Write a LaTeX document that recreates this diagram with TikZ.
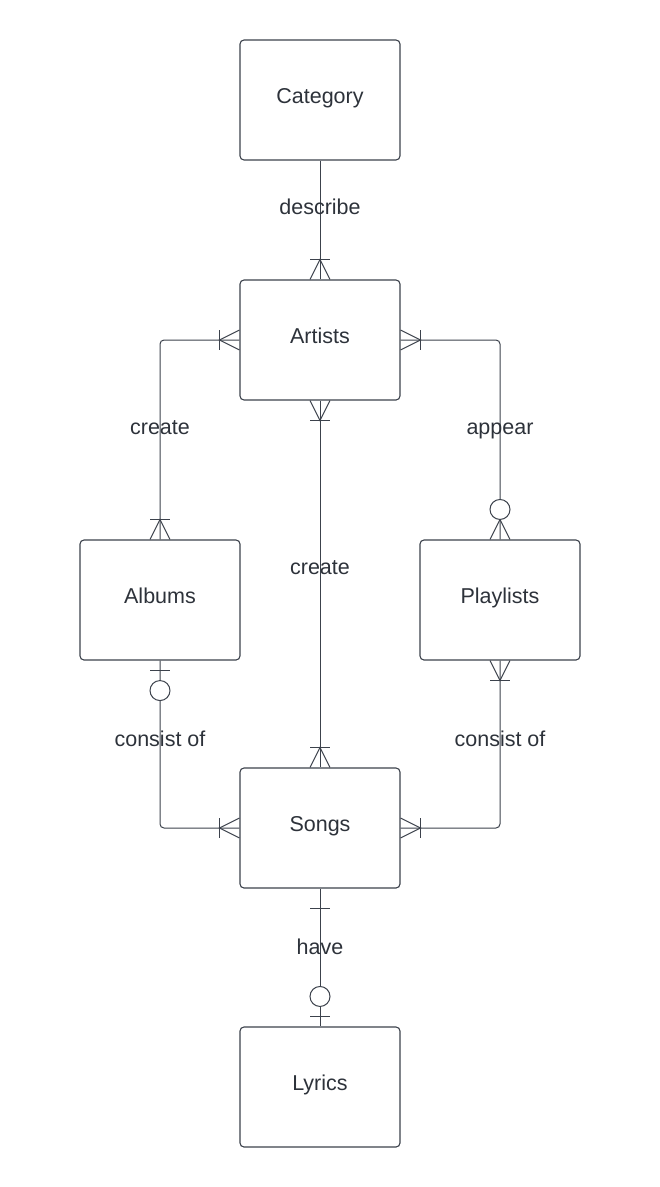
\documentclass[tikz,border=0pt]{standalone}
\usepackage{fontspec}
\setmainfont{Liberation Sans}
\definecolor{lncol}{RGB}{60,66,76}
\definecolor{txcol}{RGB}{45,50,58}
\tikzset{
  entity/.style={draw=lncol,line width=1.1pt,rounded corners=4pt,minimum width=160pt,minimum height=120pt,
    text=txcol,font=\fontsize{21.5}{26}\selectfont,text height=15.5pt,text depth=8.1pt},
  rel/.style={text=txcol,font=\fontsize{21.5}{26}\selectfont,inner sep=0pt,text height=15.5pt,text depth=0pt},
  link/.style={draw=lncol,line width=1pt},
  ring/.style={draw=lncol,fill=white,line width=1pt}
}
\begin{document}
\begin{tikzpicture}[x=1pt,y=-1pt]
  \useasboundingbox (0,0) rectangle (660,1187);
  % entities
  \node[entity] (cat) at (320,100) {Category};
  \node[entity] (art) at (320,340) {Artists};
  \node[entity] (alb) at (160,600) {Albums};
  \node[entity] (pla) at (500,600) {Playlists};
  \node[entity] (son) at (320,828) {Songs};
  \node[entity] (lyr) at (320,1087) {Lyrics};
  % relationship lines
  \draw[link] (cat.south) -- (art.north);
  \draw[link,rounded corners=4pt] (alb.north) |- (art.west);
  \draw[link,rounded corners=4pt] (pla.north) |- (art.east);
  \draw[link] (art.south) -- (son.north);
  \draw[link,rounded corners=4pt] (alb.south) |- (son.west);
  \draw[link,rounded corners=4pt] (pla.south) |- (son.east);
  \draw[link] (son.south) -- (lyr.north);
  % labels
  \node[rel] (ldescribe) at (320,207) {describe};
  \node[rel] (lcreatea) at (160,427) {create};
  \node[rel] (lappear) at (500,427) {appear};
  \node[rel] (lcreates) at (320,567) {create};
  \node[rel] (lconsista) at (160,739) {consist of};
  \node[rel] (lconsistp) at (500,739) {consist of};
  \node[rel] (lhave) at (320,947) {have};
  % artists ends
  \draw[link] ([xshift=-10pt]art.north) -- ([yshift=20pt]art.north) -- ([xshift=10pt]art.north);
  \draw[link] ([xshift=-10pt,yshift=20pt]art.north) -- ([xshift=10pt,yshift=20pt]art.north);
  \draw[link] ([yshift=10pt]art.west) -- ([xshift=-20pt]art.west) -- ([yshift=-10pt]art.west);
  \draw[link] ([xshift=-20pt,yshift=10pt]art.west) -- ([xshift=-20pt,yshift=-10pt]art.west);
  \draw[link] ([yshift=10pt]art.east) -- ([xshift=20pt]art.east) -- ([yshift=-10pt]art.east);
  \draw[link] ([xshift=20pt,yshift=10pt]art.east) -- ([xshift=20pt,yshift=-10pt]art.east);
  \draw[link] ([xshift=-10pt]art.south) -- ([yshift=-20pt]art.south) -- ([xshift=10pt]art.south);
  \draw[link] ([xshift=-10pt,yshift=-20pt]art.south) -- ([xshift=10pt,yshift=-20pt]art.south);
  % albums ends
  \draw[link] ([xshift=-10pt]alb.north) -- ([yshift=20pt]alb.north) -- ([xshift=10pt]alb.north);
  \draw[link] ([xshift=-10pt,yshift=20pt]alb.north) -- ([xshift=10pt,yshift=20pt]alb.north);
  \draw[link] ([xshift=-10pt,yshift=-10pt]alb.south) -- ([xshift=10pt,yshift=-10pt]alb.south);
  \draw[ring] ([yshift=-30pt]alb.south) circle[radius=10pt];
  % playlists ends
  \draw[link] ([xshift=-10pt]pla.north) -- ([yshift=20pt]pla.north) -- ([xshift=10pt]pla.north);
  \draw[ring] ([yshift=30pt]pla.north) circle[radius=10pt];
  \draw[link] ([xshift=-10pt]pla.south) -- ([yshift=-20pt]pla.south) -- ([xshift=10pt]pla.south);
  \draw[link] ([xshift=-10pt,yshift=-20pt]pla.south) -- ([xshift=10pt,yshift=-20pt]pla.south);
  % songs ends
  \draw[link] ([xshift=-10pt]son.north) -- ([yshift=20pt]son.north) -- ([xshift=10pt]son.north);
  \draw[link] ([xshift=-10pt,yshift=20pt]son.north) -- ([xshift=10pt,yshift=20pt]son.north);
  \draw[link] ([yshift=10pt]son.west) -- ([xshift=-20pt]son.west) -- ([yshift=-10pt]son.west);
  \draw[link] ([xshift=-20pt,yshift=10pt]son.west) -- ([xshift=-20pt,yshift=-10pt]son.west);
  \draw[link] ([yshift=10pt]son.east) -- ([xshift=20pt]son.east) -- ([yshift=-10pt]son.east);
  \draw[link] ([xshift=20pt,yshift=10pt]son.east) -- ([xshift=20pt,yshift=-10pt]son.east);
  \draw[link] ([xshift=-10pt,yshift=-20pt]son.south) -- ([xshift=10pt,yshift=-20pt]son.south);
  % lyrics end
  \draw[link] ([xshift=-10pt,yshift=10pt]lyr.north) -- ([xshift=10pt,yshift=10pt]lyr.north);
  \draw[ring] ([yshift=30pt]lyr.north) circle[radius=10pt];
\end{tikzpicture}
\end{document}
